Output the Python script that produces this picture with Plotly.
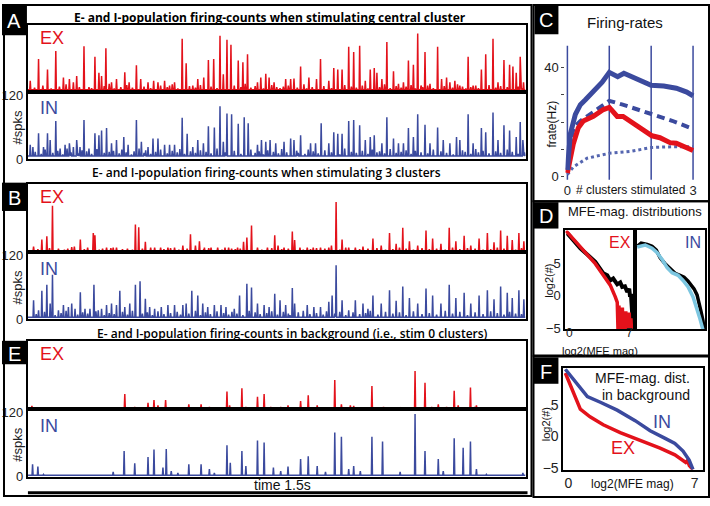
import plotly.graph_objects as go

W, H = 710, 506
def fx(px): return px / W
def fy(py): return 1 - py / H

EX_COL = "#e3121b"
IN_COL = "#3b4a9e"
CYAN = "#7cc6e0"
FONT = "Liberation Sans, Arial, sans-serif"
TFONT = "Open Sans, sans-serif"

# ---------------- data: spike counts (time ms, #spks) ----------------
a_ex_t = [7,32,59,84,107,125,137,147,169,184,202,214,222,235,252,267,292,305,327,340,362,379,392,412,427,442,465,477,497,512,530,544,560,579,589,600,612,634,648,662,692,702,717,727,742,777,792,802,822,847,870,882,907,922,934,947,967,982,1000,1017,1032,1044,1052,1067,1082,1102,1117,1132,1147,1162,1175,1185,1197,1212,1235,1247,1262,1272,1287,1302,1327,1342,1367,1380,1402,1417,1435,1452,1462,1472,1484,1494]
a_ex_h = [21,62,42,77,27,24,18,30,86,9,66,36,30,82,18,24,37,18,50,24,18,21,18,21,12,18,100,54,12,24,27,60,62,106,33,98,89,59,56,71,18,27,34,27,18,24,24,25,48,27,24,62,21,45,42,42,85,75,87,21,42,45,36,24,94,39,15,18,59,51,110,12,75,15,85,24,27,18,21,12,66,12,42,71,100,18,60,51,48,36,66,18]
a_ex_small_t = [20,45,70,95,115,155,192,230,245,260,280,298,315,350,370,400,420,435,452,487,505,520,552,570,622,642,655,672,685,710,735,750,760,770,785,812,832,840,857,892,915,955,975,990,1008,1025,1060,1075,1092,1110,1125,1140,1155,1168,1190,1205,1222,1255,1280,1295,1310,1320,1335,1350,1358,1390,1410,1425,1445,1478,1489]
a_ex_small_h = [8,12,6,10,14,9,7,11,15,6,9,13,8,10,7,12,9,14,6,11,8,13,10,7,12,9,15,8,11,6,13,9,7,10,12,8,14,6,9,11,7,13,10,8,12,6,9,14,7,11,8,10,13,6,9,12,7,11,8,14,10,6,9,12,7,13,8,11,9,10,7]
a_in_t = [7,15,32,47,59,67,84,97,112,125,137,147,157,169,184,202,214,222,237,252,267,289,302,327,342,362,377,392,412,427,442,465,480,497,512,529,544,562,579,589,600,614,634,652,664,692,704,717,730,747,772,792,802,822,852,867,884,907,922,934,947,967,982,1000,1017,1032,1044,1067,1082,1102,1117,1132,1147,1162,1175,1197,1212,1235,1252,1272,1292,1302,1327,1342,1367,1380,1402,1417,1435,1452,1472,1484,1492]
a_in_h = [27,23,49,23,49,36,72,20,27,30,23,36,23,74,20,49,45,54,59,30,36,42,27,74,33,23,39,39,27,27,27,78,48,23,36,30,62,60,100,33,86,85,67,79,68,27,36,33,36,30,33,39,36,45,30,30,68,30,51,48,48,72,74,64,36,42,45,30,79,39,30,30,59,42,85,65,30,60,36,30,42,36,85,30,59,51,88,36,64,54,42,70,36]
a_in_small_t = [22,40,52,75,90,105,118,130,152,163,177,192,208,230,245,258,275,283,296,312,320,335,350,355,370,385,400,420,435,450,458,472,490,505,520,537,552,570,595,622,642,672,685,697,710,723,740,755,765,780,810,815,835,845,860,875,895,915,940,955,975,990,1008,1025,1038,1052,1060,1075,1092,1110,1125,1140,1155,1168,1185,1205,1222,1245,1262,1282,1310,1318,1335,1350,1358,1372,1390,1410,1425,1445,1460,1478,1497]
a_in_small_h = [14,10,18,12,16,9,20,13,11,17,15,10,19,12,14,16,11,18,13,9,15,20,12,17,10,14,18,11,16,13,19,10,15,12,17,14,11,20,13,16,10,18,12,15,9,17,14,11,19,13,16,12,10,18,15,11,17,13,9,20,14,12,16,10,18,13,15,11,19,12,14,17,10,16,13,11,18,15,12,9,17,14,10,19,13,16,11,15,12,18,14,10,13]

b_ex_t = [17,42,57,74,92,132,140,158,197,202,237,257,267,300,324,334,354,382,400,422,442,467,490,505,517,532,552,572,594,614,632,650,660,674,692,722,744,754,772,797,804,842,860,882,907,915,929,947,967,987,1010,1040,1065,1090,1110,1130,1150,1175,1200,1220,1245,1270,1290,1315,1335,1360,1385,1405,1425,1445,1460,1480,1495]
b_ex_h = [10,23,29,86,6,9,10,23,35,31,8,8,8,6,51,46,19,8,8,8,8,12,33,12,20,8,8,8,8,6,8,19,27,49,8,8,31,12,8,38,22,8,8,8,8,12,93,23,8,8,10,25,12,35,15,45,20,12,40,25,15,45,20,30,12,25,35,18,40,30,22,35,20]
b_ex_small_t = [30,65,110,120,170,180,215,225,250,285,315,345,370,410,430,455,480,530,545,585,605,625,640,705,735,765,785,820,830,852,870,895,940,958,1000,1025,1052,1078,1100,1120,1140,1162,1188,1210,1232,1258,1280,1302,1325,1348,1372,1395,1415,1435,1470,1488]
b_ex_small_h = [5,7,4,6,5,8,4,6,7,5,4,6,8,5,7,4,6,5,7,4,8,5,6,4,7,5,6,8,4,5,7,6,4,8,5,6,7,4,5,8,6,4,7,5,6,4,8,5,7,6,4,5,8,6,4,7]
b_in_t = [17,32,42,57,67,74,92,107,122,132,142,158,172,187,199,212,222,237,252,267,277,292,307,324,338,354,367,382,402,422,442,467,477,494,512,527,542,562,582,597,622,638,660,674,692,712,727,744,760,777,797,804,842,862,882,907,917,929,947,967,987,1010,1025,1040,1065,1090,1110,1130,1150,1175,1200,1220,1245,1270,1290,1315,1335,1360,1385,1405,1425,1445,1460,1480,1495]
b_in_h = [36,17,54,65,30,84,17,27,23,30,20,51,20,20,65,17,20,27,30,27,54,23,30,65,72,39,23,20,23,27,27,27,30,54,45,30,23,27,27,23,20,45,67,60,30,27,23,48,36,27,59,30,27,23,23,33,45,102,36,17,36,30,20,45,30,55,35,62,40,30,58,45,30,65,40,50,30,45,55,38,62,50,40,55,38]
b_in_small_t = [25,50,82,100,115,150,165,180,205,230,245,260,285,300,315,345,360,375,392,410,430,450,460,485,505,520,535,550,570,590,605,615,630,648,667,685,700,720,735,752,770,785,790,815,830,850,870,890,900,925,940,958,980,1000,1018,1032,1055,1078,1100,1120,1140,1162,1188,1210,1232,1258,1280,1302,1325,1348,1372,1395,1415,1435,1452,1470,1488]
b_in_small_h = [10,14,8,12,16,9,13,11,15,8,12,10,14,9,16,11,13,8,15,10,12,14,9,11,16,8,13,10,15,12,9,14,11,8,16,13,10,12,15,9,14,11,8,13,16,10,12,9,15,11,14,8,13,10,12,16,9,14,11,13,8,15,10,12,9,16,11,14,8,13,10,15,12,9,14,11,10]

e_ex_t = [12,72,222,292,322,362,380,392,415,447,485,522,547,562,600,608,645,657,692,712,732,762,784,822,845,872,925,945,972,982,1037,1072,1122,1167,1197,1217,1237,1262,1285,1297,1334,1347,1352,1492]
e_ex_h = [6,1,1,28,4,12,17,7,17,3,9,9,4,3,33,7,39,4,23,28,4,4,7,15,26,7,54,9,7,6,43,4,2,71,49,4,9,4,34,7,40,4,7,1]
e_in_t = [14,30,47,72,87,257,290,322,362,380,407,417,432,452,485,522,547,562,600,610,645,657,692,712,740,762,784,822,845,872,897,925,945,967,982,1002,1037,1069,1122,1167,1197,1237,1252,1285,1312,1334,1352,1382,1492]
e_in_h = [23,19,4,2,2,9,48,25,37,51,17,52,10,7,23,23,14,7,59,26,48,20,68,64,17,10,19,33,38,20,9,83,75,14,20,10,75,66,9,118,48,33,10,72,54,66,14,4,7]

base_level = {"a_ex": 4, "a_in": 6, "b_ex": 2, "b_in": 4, "e_ex": 0.5, "e_in": 2.5}

# ---------------- data: firing rates (panel C) ----------------
c_in_x = [0, 0.03, 0.07, 0.19, 0.31, 0.43, 0.62, 0.83, 1.0, 1.2, 1.35, 1.55, 1.8, 2.0, 2.3, 2.6, 2.85, 3.0]
c_in_y = [2.5, 12, 15.7, 22.8, 26.4, 28.2, 31, 34.6, 38.2, 36.6, 37.9, 36.5, 34.8, 33.5, 33.2, 32.4, 31, 29.6]
c_ex_x = [0, 0.07, 0.14, 0.26, 0.38, 0.62, 0.86, 1.0, 1.19, 1.33, 1.5, 1.81, 2.02, 2.21, 2.45, 2.6, 3.0]
c_ex_y = [1.4, 7, 12, 17.9, 20.4, 22.1, 24.6, 25.4, 22.1, 22.1, 20.4, 17.5, 15, 14.3, 12.5, 12.3, 9.6]
c_dash_x = [0.04, 0.15, 0.31, 0.62, 1.0, 1.3, 1.6, 2.0, 2.5, 3.0]
c_dash_y = [10, 18, 20.4, 23.9, 27.8, 26.5, 25, 23.3, 20.5, 17.5]
c_dot_x = [0, 0.14, 0.47, 1.0, 1.5, 2.0, 2.5, 3.0]
c_dot_y = [0.8, 3.6, 6.8, 8.6, 9.3, 10.7, 11, 11]

# ---------------- data: MFE-magnitude distributions (panel D) ----------------
d_ex_model_x = [-0.4, 0.7, 1.87, 3.03, 3.97, 4.78, 5.37, 5.6, 5.7, 5.8, 5.9, 6.0, 6.1, 6.2, 6.3, 6.4, 6.5, 6.6, 6.7, 6.8, 6.9, 7.0, 7.1, 7.2, 7.3, 7.35]
d_ex_model_y = [10.1, 8.5, 6.8, 5.0, 3.2, 1.67, -0.15, -1.0, -6, -1.5, -6, -2.2, -6, -1.8, -6, -2.8, -6, -2.4, -6, -3.0, -6, -2.6, -6, -3.5, -6, -6]
d_ex_data_x = [-0.23, 1.28, 3.03, 3.97, 4.43, 4.78, 5.13, 5.6, 5.95, 6.18, 6.5, 6.77, 7.0, 7.1, 7.2, 7.35, 7.47]
d_ex_data_y = [9.7, 7.4, 5.3, 3.5, 3.2, 2.4, 2.7, 1.8, 2.1, 1.4, 1.5, 0.6, 1.1, -0.15, 0.3, -2.0, -5.3]
d_in_model_x = [-0.23, 0.7, 1.5, 2.1, 2.7, 3.27, 3.85, 4.55, 5.13, 5.72, 6.3, 6.77, 7.1, 7.47]
d_in_model_y = [7.6, 7.9, 7.4, 6.7, 5.6, 4.4, 3.6, 3.2, 2.4, 1.4, -0.15, -2.0, -3.5, -5.3]
d_in_data_x = [-0.23, 0.23, 0.93, 1.5, 2.0, 2.45, 3.03, 3.6, 4.2, 4.78, 5.25, 5.72, 6.07, 6.42, 6.77, 7.0, 7.23, 7.47, 7.58]
d_in_data_y = [7.7, 8.2, 8.0, 7.7, 7.1, 5.9, 5.0, 4.2, 3.5, 3.2, 2.9, 2.3, 1.7, 1.1, 0.15, -0.9, -2.4, -3.9, -5.3]
d_xtick_vals = [0, 7]

# ---------------- data: background MFE distributions (panel F) ----------------
f_in_x = [-0.17, 0.22, 0.66, 1.05, 1.77, 2.7, 3.7, 4.53, 5.36, 5.9, 6.35, 6.69, 6.9]
f_in_y = [10.6, 9.2, 7.7, 6.3, 5.4, 4.15, 2.5, 0.9, -0.3, -1.1, -2.3, -3.7, -5.2]
f_ex_x = [-0.17, 0.22, 0.66, 1.2, 1.93, 2.87, 3.98, 5.08, 5.9, 6.35, 6.5, 6.6, 6.7, 6.9]
f_ex_y = [10.0, 7.4, 4.3, 3.1, 1.85, 0.6, -0.6, -1.85, -2.9, -3.7, -4.1, -3.8, -4.6, -5.2]

fig = go.Figure()
layout = {}
naxes = [0]

def add_axes(px0, px1, py0, py1, xr, yr, xkw=None, ykw=None):
    naxes[0] += 1
    n = naxes[0]
    s = "" if n == 1 else str(n)
    base = dict(showgrid=False, zeroline=False, showticklabels=False, ticks="",
                showline=False, fixedrange=True)
    xa = dict(base, domain=[fx(px0), fx(px1)], range=xr, anchor="y" + s)
    ya = dict(base, domain=[fy(py1), fy(py0)], range=yr, anchor="x" + s)
    if xkw: xa.update(xkw)
    if ykw: ya.update(ykw)
    layout["xaxis" + s] = xa
    layout["yaxis" + s] = ya
    return "x" + s, "y" + s

def spike_xy(ts, hs, base):
    pts = sorted(zip(ts, hs))
    x, y = [0], [base]
    for t, h in pts:
        x += [t - 1.6, t, t + 1.6]
        y += [base, h, base]
    x.append(1500); y.append(base)
    return x, y

boxline = dict(showline=True, mirror=True, linecolor="black", linewidth=2)
annotations = []
shapes = []

def text(px, py, s, size=13, color="#222", xanchor="center", yanchor="middle", angle=0, family=FONT, weight=None):
    f = dict(size=size, color=color, family=family)
    if weight: f["weight"] = weight
    annotations.append(dict(x=fx(px), y=fy(py), xref="paper", yref="paper", text=s, showarrow=False,
                            xanchor=xanchor, yanchor=yanchor, textangle=angle, font=f))

spike_panels = [
    ("a", 21, 90, 159, "E- and I-population firing-counts when stimulating central cluster", 269, 14, 700),
    ("b", 184, 254, 323, "E- and I-population firing-counts when stimulating 3 clusters", 265, 173, 600),
    ("e", 345, 415, 484, "E- and I-population firing-counts in background (i.e., stim 0 clusters)", 291, 337, 600),
]
data_map = {"a_ex": (a_ex_t + a_ex_small_t, a_ex_h + a_ex_small_h),
            "a_in": (a_in_t + a_in_small_t, a_in_h + a_in_small_h),
            "b_ex": (b_ex_t + b_ex_small_t, b_ex_h + b_ex_small_h),
            "b_in": (b_in_t + b_in_small_t, b_in_h + b_in_small_h),
            "e_ex": (e_ex_t, e_ex_h), "e_in": (e_in_t, e_in_h)}

for key, top, mid, bot, title, tx, ty, tw in spike_panels:
    xr = [0, 1500]; yr = [0, 127]
    xe, ye = add_axes(26, 525, top, mid, xr, yr, dict(boxline), dict(boxline))
    t, h = data_map[key + "_ex"]
    x, y = spike_xy(t, h, base_level[key + "_ex"])
    fig.add_trace(go.Scatter(x=x, y=y, xaxis=xe, yaxis=ye, mode="lines",
                             line=dict(color=EX_COL, width=1.5), hoverinfo="skip"))
    xi, yi = add_axes(26, 525, mid, bot, xr, yr, dict(boxline),
                      dict(boxline, showticklabels=True, tickvals=[0, 120], ticktext=["0", "120"],
                           tickfont=dict(size=13, color="#222", family=FONT)))
    t, h = data_map[key + "_in"]
    x, y = spike_xy(t, h, base_level[key + "_in"])
    fig.add_trace(go.Scatter(x=x, y=y, xaxis=xi, yaxis=yi, mode="lines",
                             line=dict(color=IN_COL, width=1.5), hoverinfo="skip"))
    text(tx, ty, title, size=12, color="black", family=TFONT, weight=tw)
    text(50, top + 14, "EX", size=18, color=EX_COL)
    text(47, mid + 17, "IN", size=18, color=IN_COL)
    text(16, (mid + bot) / 2 + 2, "#spks", size=13, angle=-90)

text(281, 493, "time 1.5s", size=14, color="#111")
shapes.append(dict(type="line", xref="paper", yref="paper", x0=fx(26), x1=fx(527), y0=fy(500.5), y1=fy(500.5),
                   line=dict(color="black", width=3)))

# ---------------- panel C ----------------
c_x0 = 565; c_x1 = 700; c_y0 = 40; c_y1 = 181
ppx = 42.0; ppy = 2.8
cxr = [-(567 - c_x0) / ppx, 3 + (c_x1 - 693) / ppx]
cyr = [(177 - c_y1) / ppy, (177 - c_y0) / ppy]
xc, yc = add_axes(c_x0, c_x1, c_y0, c_y1, cxr, cyr,
                  dict(showticklabels=True, tickvals=[0, 3], ticktext=["0", "3"],
                       tickfont=dict(size=13, color="#222", family=FONT)),
                  dict(showticklabels=True, tickvals=[0, 10, 20, 30, 40], ticktext=["0", "", "", "", "40"],
                       ticks="outside", ticklen=3, tickcolor="#444", tickwidth=1,
                       tickfont=dict(size=13, color="#222", family=FONT)))
for v in [0, 1, 2, 3]:
    shapes.append(dict(type="line", xref=xc, yref=yc, x0=v, x1=v, y0=-1.07, y1=47.9,
                       line=dict(color=IN_COL, width=1.5), layer="below"))
fig.add_trace(go.Scatter(x=c_dot_x, y=c_dot_y, xaxis=xc, yaxis=yc, mode="lines",
                         line=dict(color="#5566b0", width=3, dash="dot"), hoverinfo="skip"))
fig.add_trace(go.Scatter(x=c_dash_x, y=c_dash_y, xaxis=xc, yaxis=yc, mode="lines",
                         line=dict(color=IN_COL, width=4, dash="8px,5px"), hoverinfo="skip"))
fig.add_trace(go.Scatter(x=c_ex_x, y=c_ex_y, xaxis=xc, yaxis=yc, mode="lines",
                         line=dict(color=EX_COL, width=5), hoverinfo="skip"))
fig.add_trace(go.Scatter(x=c_in_x, y=c_in_y, xaxis=xc, yaxis=yc, mode="lines",
                         line=dict(color=IN_COL, width=5), hoverinfo="skip"))
text(625, 19, "Firing-rates", size=15, color="#111")
text(630, 191, "# clusters stimulated", size=12, color="#111")
text(552, 123, "frate(Hz)", size=12, angle=-90, color="#111")

# ---------------- panel D ----------------
d_top, d_bot = 232, 333
dpy = 6.6
dyr = [(299 - d_bot) / dpy, (299 - d_top) / dpy]
dpx = 8.57
dxr = [-(569 - 565) / dpx, (635 - 569) / dpx]
xd1, yd1 = add_axes(565, 635, d_top, d_bot, dxr, dyr, dict(boxline),
                    dict(boxline, showticklabels=True, tickvals=[-5, 0, 5], ticktext=["\u22125", "0", "5"],
                         tickfont=dict(size=13, color="#222", family=FONT)))
xd2, yd2 = add_axes(635, 705, d_top, d_bot, dxr, dyr, dict(boxline), dict(boxline))
for v in d_xtick_vals:
    annotations.append(dict(x=v, y=0, xref=xd1, yref="paper", yshift=(H - 341) - 0, showarrow=False,
                            text=str(v), xanchor="center", yanchor="middle",
                            font=dict(size=12, color="#222", family=FONT)))
fig.add_trace(go.Scatter(x=d_ex_data_x, y=d_ex_data_y, xaxis=xd1, yaxis=yd1, mode="lines",
                         line=dict(color="black", width=4), hoverinfo="skip"))
fig.add_trace(go.Scatter(x=d_ex_model_x, y=d_ex_model_y, xaxis=xd1, yaxis=yd1, mode="lines",
                         line=dict(color=EX_COL, width=3.5), hoverinfo="skip"))
fig.add_trace(go.Scatter(x=d_in_data_x, y=d_in_data_y, xaxis=xd2, yaxis=yd2, mode="lines",
                         line=dict(color="black", width=3.5), hoverinfo="skip"))
fig.add_trace(go.Scatter(x=d_in_model_x, y=d_in_model_y, xaxis=xd2, yaxis=yd2, mode="lines",
                         line=dict(color=CYAN, width=3.5), hoverinfo="skip"))
text(635, 213, "MFE-mag. distributions", size=13, color="#111")
text(633, 244, "EX", size=16, color=EX_COL, xanchor="right")
text(703, 244, "IN", size=16, color=IN_COL, xanchor="right")
text(600, 355, "log2(MFE mag)", size=11, color="#111")
text(549, 283, "log2(#)", size=11, angle=-90, color="#111")

# ---------------- panel F ----------------
f_top, f_bot = 373, 477
fpy = 6.5
fyr = [(443 - f_bot) / fpy, (443 - f_top) / fpy]
fpx = 18.1
fxr = [-(568 - 563) / fpx, (703 - 568) / fpx]
xf, yf = add_axes(563, 703, f_top, f_bot, fxr, fyr,
                  dict(boxline, showticklabels=True, tickvals=[0, 7], ticktext=["0", "7"],
                       tickfont=dict(size=14, color="#222", family=FONT)),
                  dict(boxline, showticklabels=True, tickvals=[-5, 0, 5], ticktext=["\u22125", "0", "5"],
                       tickfont=dict(size=14, color="#222", family=FONT)))
fig.add_trace(go.Scatter(x=f_ex_x, y=f_ex_y, xaxis=xf, yaxis=yf, mode="lines",
                         line=dict(color=EX_COL, width=3.5), hoverinfo="skip"))
fig.add_trace(go.Scatter(x=f_in_x, y=f_in_y, xaxis=xf, yaxis=yf, mode="lines",
                         line=dict(color=IN_COL, width=3.5), hoverinfo="skip"))
text(692, 383, "MFE-mag. dist.", size=14, color="#111", xanchor="right")
text(692, 401, "in background", size=14, color="#111", xanchor="right")
text(662, 428, "IN", size=18, color=IN_COL)
text(623, 455, "EX", size=18, color=EX_COL)
text(632, 492, "log2(MFE mag)", size=12, color="#111")
text(545, 430, "log2(#)", size=11, angle=-90, color="#111")

# ---------------- frames and panel letters ----------------
def rect(x0, y0, x1, y1, fill=None, width=2):
    d = dict(type="rect", xref="paper", yref="paper", x0=fx(x0), x1=fx(x1), y0=fy(y1), y1=fy(y0),
             line=dict(color="black", width=width if fill is None else 0))
    if fill: d["fillcolor"] = fill
    shapes.append(d)

rect(2, 1, 531, 504)
rect(533, 1, 709, 202)
rect(533, 202, 709, 360)
rect(533, 361, 709, 505)
for lab, x0, y0, x1, y1 in [("A", 0, 0, 25, 32), ("B", 0, 183, 25, 212), ("E", 0, 345, 25, 369),
                            ("C", 534, 0, 558, 31), ("D", 533, 203, 558, 230), ("F", 533, 362, 558, 389)]:
    rect(x0, y0, x1, y1, fill="black")
    text((x0 + x1) / 2, (y0 + y1) / 2 + 1, lab, size=20, color="white")

layout.update(dict(width=W, height=H, margin=dict(l=0, r=0, t=0, b=0), showlegend=False,
                   paper_bgcolor="white", plot_bgcolor="rgba(0,0,0,0)",
                   annotations=annotations, shapes=shapes))
fig.update_layout(**layout)
fig.write_html("out.html", config={"displayModeBar": False},
               post_script="document.body.style.margin='0';document.body.style.padding='0';document.body.style.overflow='hidden';")
